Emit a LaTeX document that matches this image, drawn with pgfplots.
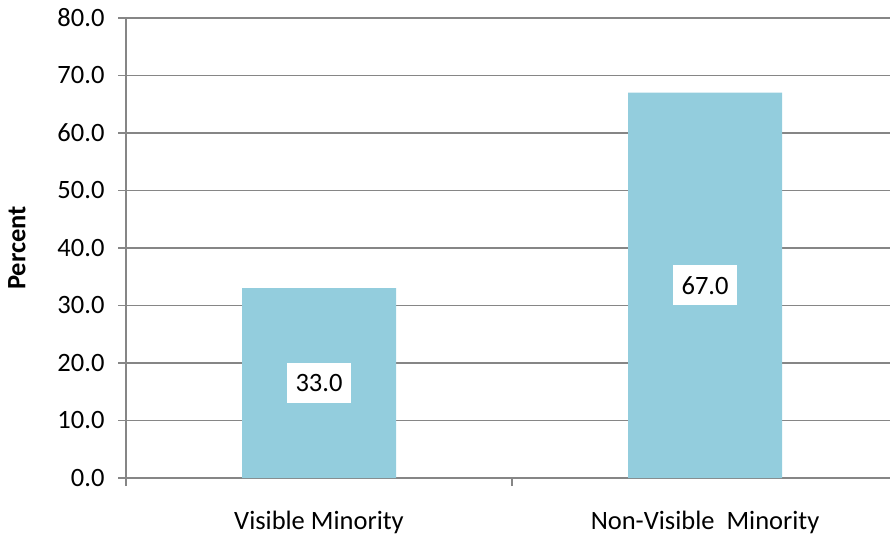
\documentclass[border=0pt]{standalone}
\usepackage{pgfplots}
\pgfplotsset{compat=1.18}
\usepackage{fontspec}
\setmainfont{Carlito}

\definecolor{barblue}{RGB}{147,205,221}
\definecolor{axisgray}{RGB}{134,134,134}

\begin{document}
\begin{tikzpicture}[font=\fontsize{26.5}{31}\selectfont, x=1pt, y=1pt]
\path[use as bounding box] (0,0) rectangle (890,538);
\begin{axis}[
  at={(126pt,60pt)}, anchor=south west,
  scale only axis, width=764pt, height=460pt,
  xmin=-0.5, xmax=1.479,
  ymin=0, ymax=80,
  ytick={0,10,...,80},
  xtick={-0.5,0.5,1.5},
  xticklabels={},
  extra x ticks={0,1},
  extra x tick labels={Visible Minority, Non-Visible~~Minority},
  extra x tick style={tick style={draw=none}, xticklabel style={yshift=-22pt}},
  axis lines=left,
  axis line style={draw=axisgray, line width=1.6pt, -},
  tick style={draw=axisgray, line width=1.6pt},
  tick align=outside,
  major tick length=8pt,
  ymajorgrids,
  grid style={draw=axisgray, line width=1.6pt},
  yticklabel style={xshift=-10pt},
  /pgf/number format/.cd, fixed, fixed zerofill, precision=1, assume math mode=true,
  /pgfplots/.cd,
  ylabel={\bfseries Percent},
  every axis y label/.style={at={(rel axis cs:0,0.5)}, xshift=-109pt, rotate=90, anchor=center},
  clip=false,
]
\addplot[ybar, bar width=154pt, fill=barblue, draw=none] coordinates {(0,33.0) (1,67.0)};
\addplot[draw=none, mark=none, point meta=explicit,
  nodes near coords={\pgfmathprintnumber[fixed, fixed zerofill, precision=1]{\pgfplotspointmeta}},
  every node near coord/.style={anchor=center, fill=white, inner xsep=8.5pt, minimum height=40pt}]
  coordinates {(0,16.5) [33.0] (1,33.5) [67.0]};
\end{axis}
\end{tikzpicture}
\end{document}
